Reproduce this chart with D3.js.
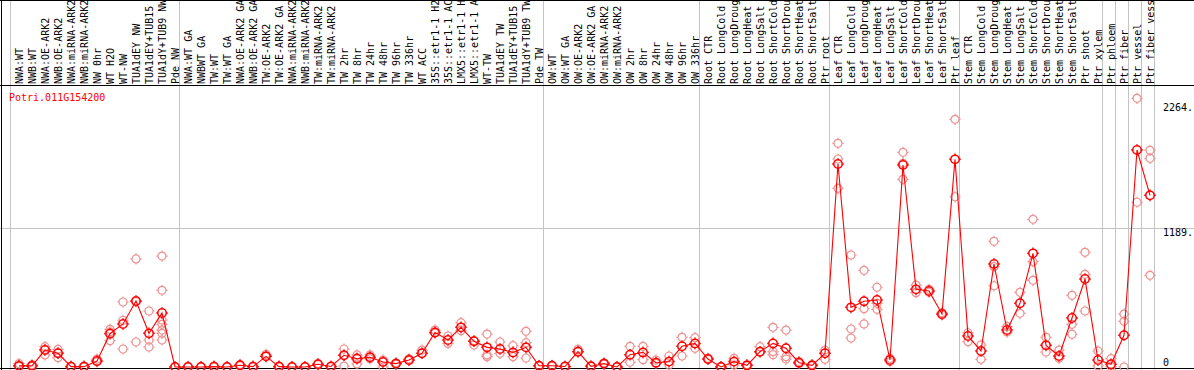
<!DOCTYPE html>
<html>
<head>
<meta charset="utf-8">
<script src="https://cdn.jsdelivr.net/npm/d3@7/dist/d3.min.js"></script>
<style>
  html, body { margin: 0; padding: 0; background: #fff; }
  svg { display: block; }
  text { font-family: "DejaVu Sans Mono", "Liberation Mono", monospace; font-size: 10px; }
</style>
</head>
<body>
<svg id="chart" width="1194" height="370"></svg>
<script>
const title = "Potri.011G154200";

const categories = [
  "NWA:WT","NWB:WT","NWA:OE-ARK2","NWB:OE-ARK2","NWA:miRNA-ARK2","NWB:miRNA-ARK2","NW 0hr","WT H2O","WT-NW","TUA1dEY NW","TUA1dEY+TUB15 NW","TUA1dY+TUB9 NW","Pde NW",
  "NWA:WT GA","NWBWT GA","TW:WT","TW:WT GA","NWA:OE-ARK2 GA","NWB:OE-ARK2 GA","TW:OE-ARK2","TW:OE-ARK2 GA","NWA:miRNA-ARK2","NWB:miRNA-ARK2","TW:miRNA-ARK2","TW:miRNA-ARK2","TW 2hr","TW 8hr","TW 24hr","TW 48hr","TW 96hr","TW 336hr","WT ACC","35S::etr1-1 H2O","35S::etr1-1 ACC","LMX5::etr1-1 H2O","LMX5::etr1-1 ACC","WT-TW","TUA1dEY TW","TUA1dEY+TUB15 TW","TUA1dY+TUB9 TW","Pde TW",
  "OW:WT","OW:WT GA","OW:OE-ARK2","OW:OE-ARK2 GA","OW:miRNA-ARK2","OW:miRNA-ARK2","OW 2hr","OW 8hr","OW 24hr","OW 48hr","OW 96hr","OW 336hr",
  "Root CTR","Root LongCold","Root LongDrought","Root LongHeat","Root LongSalt","Root ShortCold","Root ShortDrought","Root ShortHeat","Root ShortSalt","Ptr root",
  "Leaf CTR","Leaf LongCold","Leaf LongDrought","Leaf LongHeat","Leaf LongSalt","Leaf ShortCold","Leaf ShortDrought","Leaf ShortHeat","Leaf ShortSalt","Ptr leaf",
  "Stem CTR","Stem LongCold","Stem LongDrought","Stem LongHeat","Stem LongSalt","Stem ShortCold","Stem ShortDrought","Stem ShortHeat","Stem ShortSalt","Ptr shoot","Ptr xylem",
  "Ptr phloem","Ptr fiber","Ptr vessel","Ptr fiber vessel"
];

const means = [
  10,10,145,117,3,3,51,285,368,565,288,462,0,
  0,0,3,0,15,3,91,3,0,0,23,4,100,71,83,43,29,60,117,296,231,339,220,168,154,125,168,11,
  11,4,131,6,29,0,105,125,37,46,177,202,
  68,0,46,14,131,202,160,37,14,117,
  1736,510,562,573,60,1728,664,650,453,1776,
  265,137,881,316,545,972,185,94,419,753,60,
  23,271,1856,1468
];

const replicates = [
  [30,8,5],[20,8,5],[174,103,150],[151,80,120],[5,2],[8,2],[68,45],[322,225,300],[556,400,154],[924,214,560],[479,231,171],[949,656,402,365,316,288,231],[2,0],
  [5,0],[2,0],[8,2],[2,0],[20,10],[8,2],[108,91],[10,2],[3,0],[2,0],[30,20],[6,2],[154,8,100],[103,26,80],[103,83,70],[60,0,45],[35,25],[70,55],[145,117],[316,290],[265,202],[379,311],[188,225],[282,103,88],[214,117],[182,88],[305,208,77],[15,8],
  [15,8],[6,2],[151,131],[8,4],[35,25],[3,0],[177,40],[177,63],[60,30],[94,17],[254,94],[251,160],
  [75,65],[3,0],[74,17],[20,10],[174,131],[339,131,105],[316,88,68],[46,30],[20,10],[145,66],
  [1913,1779,1528],[958,325,248],[827,499,368],[682,545,493],[74,46],[1836,1742,1605],[701,636],[664,640],[464,445],[2118,1456],
  [293,217],[188,66],[1075,858,695],[345,299],[639,459],[1263,901,741],[254,128],[145,74],[613,365,280],[981,793,479],[137,9],
  [71,3],[453,391,0],[2298,1409],[1853,1785,784]
];

// group boundaries (index of first category in each group; last = end)
const groupBreaks = [0, 13, 41, 53, 63, 73, 84, 85, 86, 87, 88];

const yTicks = [0, 1189, 2264];
const yTickLabels = ["0", "1189.", "2264."];
const yGrid = [1189];

const W = 1194, H = 370;
const svg = d3.select("#chart");
const idx = d3.range(categories.length);

const x = d3.scaleBand().domain(idx).range([11, 1155]).padding(0);
const bw = x.bandwidth();
const xEdge = i => i < categories.length ? x(i) : x(categories.length - 1) + bw;
const cx = i => x(i) + 8;

const y = d3.scaleLinear().domain([0, 2264]).range([367, 102.3]);

// grid lines
svg.append("g").selectAll("line").data(yGrid).join("line")
  .attr("x1", 0).attr("x2", W)
  .attr("y1", d => Math.round(y(d)) + 0.5).attr("y2", d => Math.round(y(d)) + 0.5)
  .attr("stroke", "#c4c4c4").attr("stroke-width", 1);

svg.append("g").selectAll("line").data(groupBreaks).join("line")
  .attr("x1", d => Math.round(xEdge(d)) - 0.5).attr("x2", d => Math.round(xEdge(d)) - 0.5)
  .attr("y1", 0).attr("y2", H)
  .attr("stroke", "#c4c4c4").attr("stroke-width", 1);

// borders
svg.append("line").attr("x1", 0).attr("x2", W).attr("y1", 0.5).attr("y2", 0.5).attr("stroke", "#000");
svg.append("line").attr("x1", 0).attr("x2", W).attr("y1", 85.5).attr("y2", 85.5).attr("stroke", "#000");
svg.append("line").attr("x1", 1.5).attr("x2", 1.5).attr("y1", 0).attr("y2", H).attr("stroke", "#000");
svg.append("line").attr("x1", 0).attr("x2", W).attr("y1", 368.5).attr("y2", 368.5).attr("stroke", "#000");

// category labels
svg.append("g").selectAll("text").data(idx).join("text")
  .attr("transform", i => `translate(${x(i) + 11.5},84) rotate(-90)`)
  .attr("text-anchor", "start")
  .attr("fill", "#000")
  .text(i => categories[i]);

// title
svg.append("text").attr("x", 9).attr("y", 100.5).attr("fill", "#ff0000").text(title);

// y tick labels
svg.append("g").selectAll("text").data(yTicks).join("text")
  .attr("x", 1163)
  .attr("y", d => Math.min(y(d) + 8.3, 365.5))
  .attr("fill", "#000")
  .text((d, i) => yTickLabels[i]);

// marker glyph
function marker(r) {
  const p = d3.path();
  p.moveTo(r, 0);
  p.arc(0, 0, r, 0, Math.PI * 2);
  const t = r + 1.6;
  p.moveTo(0, -r); p.lineTo(0, -t);
  p.moveTo(0, r); p.lineTo(0, t);
  p.moveTo(-r, 0); p.lineTo(-t, 0);
  p.moveTo(r, 0); p.lineTo(t, 0);
  return p.toString();
}

const plot = svg.append("g");

// replicate points
const reps = [];
idx.forEach(i => replicates[i].forEach(v => reps.push({ i, v })));
plot.append("g").selectAll("path").data(reps).join("path")
  .attr("transform", d => `translate(${cx(d.i)},${y(d.v)})`)
  .attr("d", marker(4))
  .attr("fill", "none")
  .attr("stroke", "#ee9090")
  .attr("stroke-width", 1.2);

// mean line
const line = d3.line().x((d, i) => cx(i)).y(d => y(d));
plot.append("path").datum(means)
  .attr("d", line)
  .attr("fill", "none")
  .attr("stroke", "#ff0000")
  .attr("stroke-width", 1.1);

// mean points
plot.append("g").selectAll("path").data(means).join("path")
  .attr("transform", (d, i) => `translate(${cx(i)},${y(d)})`)
  .attr("d", marker(4.2))
  .attr("fill", "none")
  .attr("stroke", "#ff0000")
  .attr("stroke-width", 1.5);
</script>
</body>
</html>
